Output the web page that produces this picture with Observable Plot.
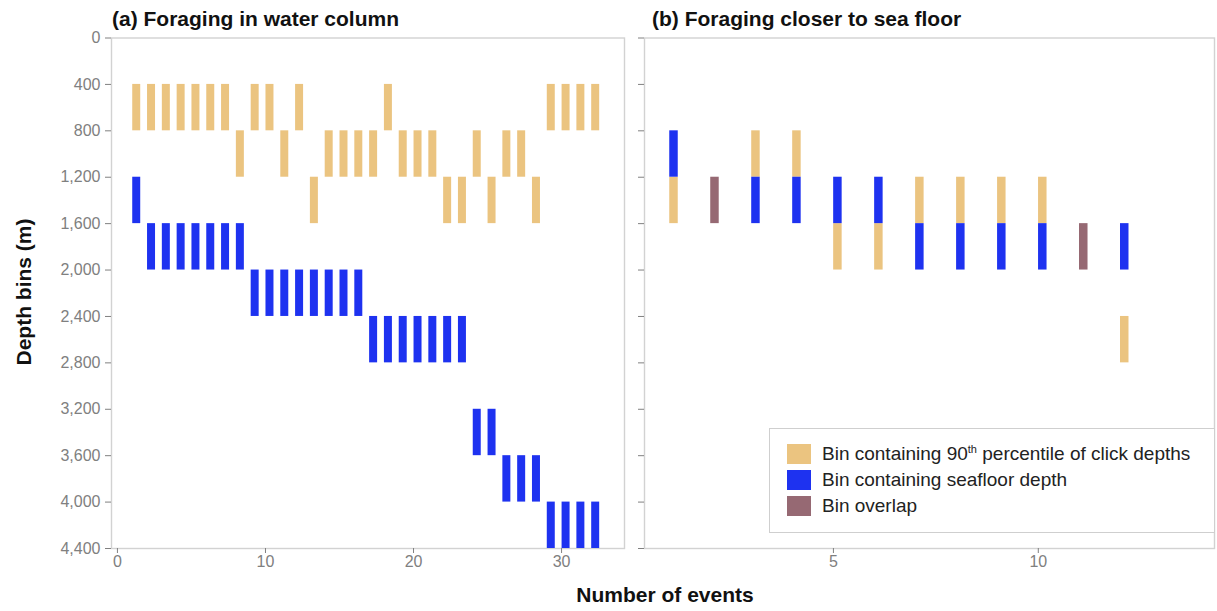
<!DOCTYPE html>
<html>
<head>
<meta charset="utf-8">
<script src="https://cdn.jsdelivr.net/npm/d3@7"></script>
<script src="https://cdn.jsdelivr.net/npm/@observablehq/plot@0.6"></script>
<style>
  body { margin: 0; background: #fff; }
  #wrap { position: relative; width: 1217px; height: 611px; overflow: hidden;
          font-family: "Liberation Sans", Arial, Helvetica, sans-serif; background: #fff; }
  .abs { position: absolute; }
  .ttl { font-weight: bold; font-size: 21px; line-height: 21px; color: #111; white-space: nowrap; }
  #legend { border: 1.5px solid #cfcfcf; background: #fff; box-sizing: border-box; }
  .li { position: absolute; left: 17px; height: 20px; display: flex; align-items: center; font-size: 19px; color: #222; white-space: nowrap; }
  .sw { width: 24px; height: 20px; margin-right: 11px; flex: none; }
  sup { font-size: 11px; vertical-align: 7px; line-height: 0; }
</style>
</head>
<body>
<div id="wrap"></div>
<script>
// ---------- data ----------
const binWidth = 400;
const depthTicks = [0, 400, 800, 1200, 1600, 2000, 2400, 2800, 3200, 3600, 4000, 4400];
const xTicksA = [0, 10, 20, 30];
const xTicksB = [5, 10];

const typeTan = "Bin containing 90th percentile of click depths";
const typeSea = "Bin containing seafloor depth";
const typeOverlap = "Bin overlap";
const types = [typeTan, typeSea, typeOverlap];
const typeColors = ["#EBC480", "#1E32F0", "#966973"];

// (a) Foraging in water column: top of the depth bin for each event
const eventsA = [1, 2, 3, 4, 5, 6, 7, 8, 9, 10, 11, 12, 13, 14, 15, 16,
                 17, 18, 19, 20, 21, 22, 23, 24, 25, 26, 27, 28, 29, 30, 31, 32];
const clickBinA = [400, 400, 400, 400, 400, 400, 400, 800, 400, 400, 800, 400, 1200, 800, 800, 800,
                   800, 400, 800, 800, 800, 1200, 1200, 800, 1200, 800, 800, 1200, 400, 400, 400, 400];
const seafloorBinA = [1200, 1600, 1600, 1600, 1600, 1600, 1600, 1600, 2000, 2000, 2000, 2000, 2000, 2000, 2000, 2000,
                      2400, 2400, 2400, 2400, 2400, 2400, 2400, 3200, 3200, 3600, 3600, 3600, 4000, 4000, 4000, 4000];

// (b) Foraging closer to sea floor
const eventsB = [1, 2, 3, 4, 5, 6, 7, 8, 9, 10, 11, 12];
const clickBinB = [1200, 1200, 800, 800, 1600, 1600, 1200, 1200, 1200, 1200, 1600, 2400];
const seafloorBinB = [800, 1200, 1200, 1200, 1200, 1200, 1600, 1600, 1600, 1600, 1600, 1600];

function buildRows(events, clickBin, seaBin) {
  const out = [];
  events.forEach((e, i) => {
    if (clickBin[i] === seaBin[i]) {
      out.push({event: e, bin: clickBin[i], type: typeOverlap});
    } else {
      out.push({event: e, bin: clickBin[i], type: typeTan});
      out.push({event: e, bin: seaBin[i], type: typeSea});
    }
  });
  return out;
}
const rowsA = buildRows(eventsA, clickBinA, seafloorBinA);
const rowsB = buildRows(eventsB, clickBinB, seafloorBinB);

// ---------- layout ----------
const wrap = document.getElementById("wrap");
const font = '"Liberation Sans", Arial, Helvetica, sans-serif';
const common = {
  height: 611,
  marginTop: 37.5,
  marginBottom: 63,
  y: {domain: [0, 4400], reverse: true},
  color: {domain: types, range: typeColors},
  style: {fontFamily: font, fontSize: "16px", color: "#808080", background: "transparent", overflow: "visible"}
};

const plotA = Plot.plot({
  ...common,
  width: 625,
  marginLeft: 111,
  marginRight: 1,
  x: {domain: [-0.4, 34.25]},
  marks: [
    Plot.frame({stroke: "#d2d2d2", strokeWidth: 1.4}),
    Plot.axisY({ticks: depthTicks, tickFormat: d3.format(","), tickSize: 6, tickPadding: 5, label: null}),
    Plot.axisX({ticks: xTicksA, tickSize: 5, tickPadding: 2, label: null}),
    Plot.ruleX(rowsA, {x: "event", y1: "bin", y2: d => d.bin + binWidth, stroke: "type", strokeWidth: 8, dx: 4})
  ]
});
plotA.style.position = "absolute";
plotA.style.left = "0px";
plotA.style.top = "0px";
wrap.appendChild(plotA);

const plotB = Plot.plot({
  ...common,
  width: 592,
  marginLeft: 19,
  marginRight: 3,
  x: {domain: [0.39, 14.3]},
  marks: [
    Plot.frame({stroke: "#d2d2d2", strokeWidth: 1.4}),
    Plot.axisY({ticks: depthTicks, tickFormat: () => "", tickSize: 6, label: null}),
    Plot.axisX({ticks: xTicksB, tickSize: 5, tickPadding: 2, label: null}),
    Plot.ruleX(rowsB, {x: "event", y1: "bin", y2: d => d.bin + binWidth, stroke: "type", strokeWidth: 8.5, dx: 4})
  ]
});
plotB.style.position = "absolute";
plotB.style.left = "625px";
plotB.style.top = "0px";
wrap.appendChild(plotB);

// titles
function addText(html, cls, css) {
  const d = document.createElement("div");
  d.className = "abs " + cls;
  d.innerHTML = html;
  Object.assign(d.style, css);
  wrap.appendChild(d);
  return d;
}
addText("(a) Foraging in water column", "ttl", {left: "112px", top: "8px"});
addText("(b) Foraging closer to sea floor", "ttl", {left: "652px", top: "8px"});
addText("Number of events", "ttl", {left: "665px", top: "584px", transform: "translateX(-50%)"});
addText("Depth bins (m)", "ttl", {left: "23px", top: "292px", transform: "translate(-50%,-50%) rotate(-90deg)"});

// legend
const legend = document.createElement("div");
legend.id = "legend";
legend.className = "abs";
Object.assign(legend.style, {left: "769px", top: "428px", width: "446px", height: "105px"});
const labelsHtml = [
  "Bin containing 90<sup>th</sup> percentile of click depths",
  "Bin containing seafloor depth",
  "Bin overlap"
];
types.forEach((t, i) => {
  const item = document.createElement("div");
  item.className = "li";
  item.style.top = (15 + i * 26) + "px";
  item.innerHTML = `<span class="sw" style="background:${typeColors[i]}"></span><span>${labelsHtml[i]}</span>`;
  legend.appendChild(item);
});
wrap.appendChild(legend);
</script>
</body>
</html>
